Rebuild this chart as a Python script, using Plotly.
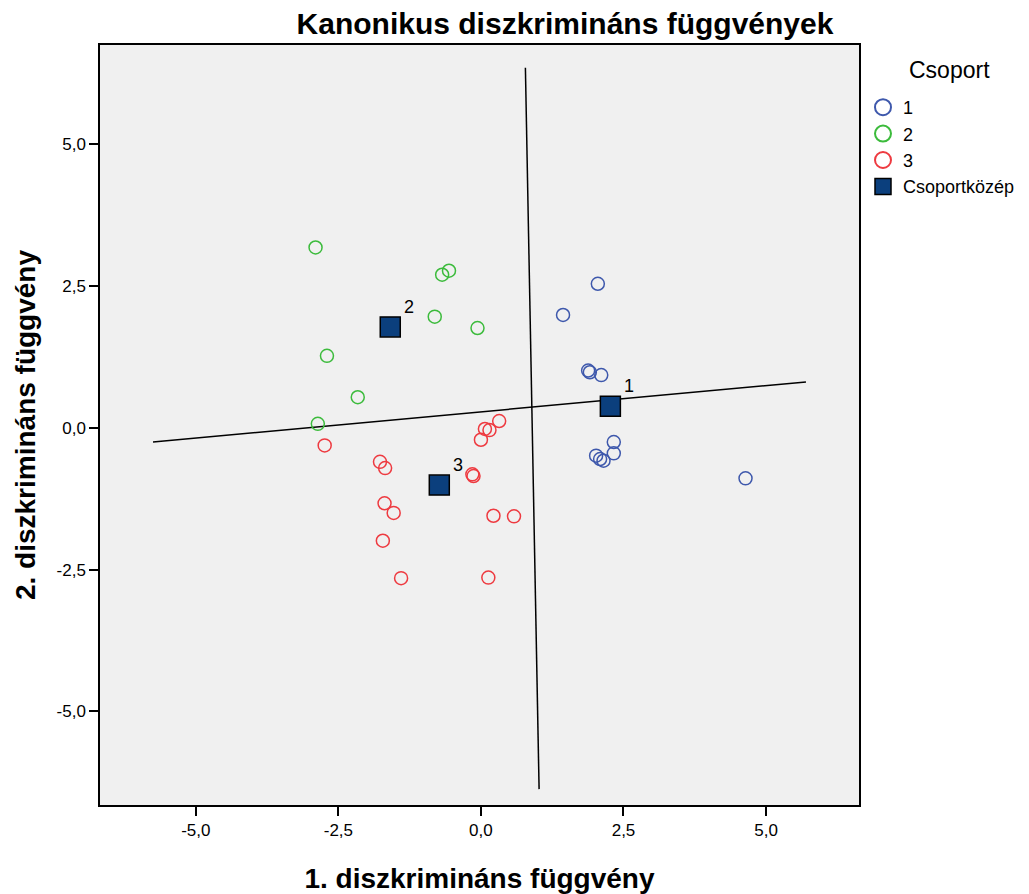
import plotly.graph_objects as go

# Group 1
g1_x = [2.05, 1.44, 1.88, 1.91, 2.11, 2.33, 2.33, 2.02, 2.09, 2.15, 4.64]
g1_y = [2.54, 1.99, 1.01, 0.98, 0.93, -0.25, -0.45, -0.49, -0.55, -0.58, -0.89]
# Group 2
g2_x = [-2.90, -0.68, -0.56, -0.81, -0.06, -2.70, -2.16, -2.86]
g2_y = [3.18, 2.70, 2.77, 1.96, 1.76, 1.27, 0.54, 0.07]
# Group 3
g3_x = [-2.74, -1.77, -1.68, -1.69, -1.53, -1.72, -1.40, 0.00, 0.07, 0.15, 0.32,
        -0.15, -0.13, 0.22, 0.58, 0.13]
g3_y = [-0.31, -0.60, -0.71, -1.33, -1.50, -1.99, -2.65, -0.21, -0.02, -0.04, 0.12,
        -0.82, -0.85, -1.55, -1.56, -2.64]
# Group centroids
cent_labels = ["1", "2", "3"]
cent_x = [2.27, -1.59, -0.73]
cent_y = [0.38, 1.78, -1.01]
# Dividing lines (endpoints)
line_h_x = [-5.75, 5.70]
line_h_y = [-0.25, 0.81]
line_v_x = [0.78, 1.02]
line_v_y = [6.35, -6.37]

x_ticks = [-5.0, -2.5, 0.0, 2.5, 5.0]
y_ticks = [-5.0, -2.5, 0.0, 2.5, 5.0]
tick_text = ["-5,0", "-2,5", "0,0", "2,5", "5,0"]

group_names = ["1", "2", "3"]
group_colors = ["#3e58ac", "#3cbb3c", "#ee3a40"]

W, H = 1029, 894
ML, MR, MT, MB = 100, 170, 45, 89
PW, PH = W - ML - MR, H - MT - MB

fig = go.Figure()

fig.add_trace(go.Scatter(x=line_h_x, y=line_h_y, mode="lines",
                         line=dict(color="black", width=1.5), showlegend=False, hoverinfo="skip"))
fig.add_trace(go.Scatter(x=line_v_x, y=line_v_y, mode="lines",
                         line=dict(color="black", width=1.5), showlegend=False, hoverinfo="skip"))

for gx, gy, nm, col in zip([g1_x, g2_x, g3_x], [g1_y, g2_y, g3_y], group_names, group_colors):
    fig.add_trace(go.Scatter(x=gx, y=gy, mode="markers", name=nm, showlegend=False,
                             marker=dict(symbol="circle-open", size=13, color=col,
                                         line=dict(width=1.5))))
fig.add_trace(go.Scatter(x=cent_x, y=cent_y, mode="markers", name="Csoportközép",
                         showlegend=False,
                         marker=dict(symbol="square", size=20, color="#0b3f7d",
                                     line=dict(color="black", width=1.5))))

# legend-only entries (larger symbols as in the reference legend)
for nm, col in zip(group_names, group_colors):
    fig.add_trace(go.Scatter(x=[None], y=[None], mode="markers", name=nm,
                             marker=dict(symbol="circle-open", size=16, color=col,
                                         line=dict(width=2))))
fig.add_trace(go.Scatter(x=[None], y=[None], mode="markers", name="Csoportközép",
                         marker=dict(symbol="square", size=16, color="#0b3f7d",
                                     line=dict(color="black", width=1.5))))

for lx, ly, lt in zip(cent_x, cent_y, cent_labels):
    fig.add_annotation(x=lx, y=ly, text=lt, showarrow=False, xshift=19, yshift=20,
                       font=dict(family="Liberation Sans, Arial", size=18, color="black"))

fig.add_annotation(x=(949 - ML) / PW, y=1 - (70 - MT) / PH, xref="paper", yref="paper",
                   text="Csoport", showarrow=False, xanchor="center", yanchor="middle",
                   font=dict(family="Liberation Sans, Arial", size=23, color="black"))

fig.update_layout(
    width=W, height=H,
    margin=dict(l=ML, r=MR, t=MT, b=MB, autoexpand=False),
    paper_bgcolor="white", plot_bgcolor="#f0f0f0",
    font=dict(family="Liberation Sans, Arial", size=16, color="black"),
    title=dict(text="<b>Kanonikus diszkrimináns függvények</b>",
               x=565 / W, xanchor="center", y=1 - 23 / H, yanchor="middle",
               font=dict(family="Liberation Sans, Arial", size=30, color="black")),
    showlegend=True,
    legend=dict(x=(863 - ML) / PW, xanchor="left",
                y=1 + (MT - 89) / PH, yanchor="top",
                font=dict(family="Liberation Sans, Arial", size=18), itemsizing="trace",
                tracegroupgap=0, bgcolor="rgba(0,0,0,0)"),
    xaxis=dict(range=[-6.68, 6.63], tickvals=x_ticks, ticktext=tick_text,
               showgrid=False, zeroline=False, showline=True, linecolor="black",
               linewidth=1.5, mirror=True, ticks="outside", ticklen=9, tickwidth=1.5,
               tickcolor="black", tickfont=dict(size=17), automargin=False,
               title=dict(text="<b>1. diszkrimináns függvény</b>", standoff=30,
                          font=dict(family="Liberation Sans, Arial", size=28))),
    yaxis=dict(range=[-6.65, 6.75], tickvals=y_ticks, ticktext=tick_text,
               showgrid=False, zeroline=False, showline=True, linecolor="black",
               linewidth=1.5, mirror=True, ticks="outside", ticklen=9, tickwidth=1.5,
               tickcolor="black", tickfont=dict(size=17), automargin=False,
               title=dict(text="<b>2. diszkrimináns függvény</b>", standoff=13,
                          font=dict(family="Liberation Sans, Arial", size=28))),
)

fig.write_html("out.html")
